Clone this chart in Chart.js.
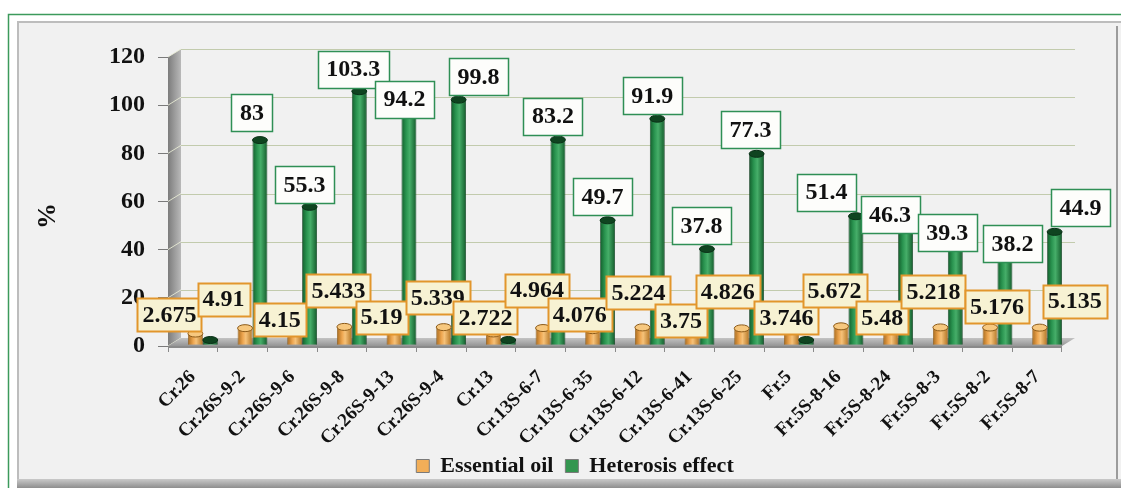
<!DOCTYPE html>
<html>
<head>
<meta charset="utf-8">
<script src="https://cdn.jsdelivr.net/npm/chart.js@4.4.1/dist/chart.umd.min.js"></script>
<style>
  html, body { margin: 0; padding: 0; background: #ffffff; }
  #wrap { width: 1121px; height: 488px; position: relative; }
  canvas { display: block; }
</style>
</head>
<body>
<div id="wrap"><canvas id="chart" width="1121" height="488"></canvas></div>
<script>
// ---- data ----
const categories = [
  'Cr.26', 'Cr.26S-9-2', 'Cr.26S-9-6', 'Cr.26S-9-8', 'Cr.26S-9-13', 'Cr.26S-9-4',
  'Cr.13', 'Cr.13S-6-7', 'Cr.13S-6-35', 'Cr.13S-6-12', 'Cr.13S-6-41', 'Cr.13S-6-25',
  'Fr.5', 'Fr.5S-8-16', 'Fr.5S-8-24', 'Fr.5S-8-3', 'Fr.5S-8-2', 'Fr.5S-8-7'
];
const essentialOil = [
  2.675, 4.91, 4.15, 5.433, 5.19, 5.339,
  2.722, 4.964, 4.076, 5.224, 3.75, 4.826,
  3.746, 5.672, 5.48, 5.218, 5.176, 5.135
];
const heterosisEffect = [
  0, 83, 55.3, 103.3, 94.2, 99.8,
  0, 83.2, 49.7, 91.9, 37.8, 77.3,
  0, 51.4, 46.3, 39.3, 38.2, 44.9
];
const yTicks = [0, 20, 40, 60, 80, 100, 120];
const seriesNames = ['Essential oil', 'Heterosis effect'];

// ---- label placement: [dx, dy] in px from the top-centre of each drawn bar ----
const oilLabelOffsets = [
  [-26, -19], [-21.5, -29], [-15, -10.5], [-6, -36], [-12.5, -10.5], [-6, -29.5],
  [-8, -16], [-6, -38], [-13, -15.5], [-4, -35], [-11, -10.5], [-14, -36.5],
  [-5, -13], [-6.5, -36], [-8.5, -9], [-7, -35.5], [7, -21], [35, -26.5]
];
const hetLabelOffsets = [
  null, [-8, -27.5], [-5, -22], [-6, -22], [-4.5, -14], [20, -23],
  null, [-5, -23.5], [-5, -24], [-5, -23], [-5.5, -23], [-6, -24],
  null, [-29.5, -24], [-15.5, -14], [-8, -13], [7.5, -4.5], [26, -24]
];

// ---- styling ----
const SERIF = "'Liberation Serif', 'Times New Roman', serif";
const CAT_PCT = 0.6;
const WALL = { x: 13, y: -8 };      // depth of the back wall
const BAR_SHIFT = { x: 10, y: -6 }; // columns stand mid-depth
const LEGEND_SHIFT = 34;
const LEGEND_COLORS = ['#f2ae58', '#33964f'];

const OIL_STOPS = [[0, '#a86a1c'], [0.35, '#eea650'], [0.55, '#f6c279'], [1, '#b27424']];
const HET_STOPS = [[0, '#135e2c'], [0.3, '#29934f'], [0.55, '#46ae69'], [1, '#135b2b']];

function cylinderFill(stops, solid) {
  return (c) => {
    if (c.type !== 'data') return solid;
    const chart = c.chart, xs = chart.scales.x;
    if (!xs || !chart.chartArea) return solid;
    const slot = xs.width / categories.length * CAT_PCT / 2;
    const center = xs.getPixelForValue(c.dataIndex) + (c.datasetIndex === 0 ? -slot / 2 : slot / 2);
    const g = chart.ctx.createLinearGradient(center - slot / 2, 0, center + slot / 2, 0);
    stops.forEach(([o, col]) => g.addColorStop(o, col));
    return g;
  };
}

// page frame, grey panel, side wall, floor and back-wall grid
const framePlugin = {
  id: 'frame',
  afterLayout(chart) {
    if (chart.legend) {
      chart.legend.left += LEGEND_SHIFT;
      chart.legend.right += LEGEND_SHIFT;
    }
  },
  beforeDraw(chart) {
    const ctx = chart.ctx, W = chart.width, H = chart.height;
    ctx.save();
    ctx.fillStyle = '#ffffff';
    ctx.fillRect(0, 0, W, H);
    // panel
    ctx.fillStyle = '#f1f1f1';
    ctx.fillRect(17, 21, W - 17, 460);
    ctx.strokeStyle = '#bdbdbd';
    ctx.lineWidth = 2;
    ctx.beginPath();
    ctx.moveTo(18, 481); ctx.lineTo(18, 22); ctx.lineTo(W, 22);
    ctx.stroke();
    ctx.fillStyle = '#9c9c9c';
    ctx.fillRect(W - 5, 26, 2, 455);
    const sh = ctx.createLinearGradient(0, 479, 0, 488);
    sh.addColorStop(0, '#c9c9c9');
    sh.addColorStop(1, '#8e8e8e');
    ctx.fillStyle = sh;
    ctx.fillRect(17, 479, W - 17, 9);
    // green outer rule
    ctx.strokeStyle = '#3c9a5c';
    ctx.lineWidth = 1.5;
    ctx.beginPath();
    ctx.moveTo(8.5, H); ctx.lineTo(8.5, 14.5); ctx.lineTo(W, 14.5);
    ctx.stroke();
    ctx.restore();
  },
  beforeDatasetsDraw(chart) {
    const ctx = chart.ctx, a = chart.chartArea, ys = chart.scales.y;
    ctx.save();
    // back-wall grid
    ctx.strokeStyle = 'rgba(178,190,150,0.75)';
    ctx.lineWidth = 1;
    yTicks.forEach(v => {
      if (v === 0) return;
      const y = Math.round(ys.getPixelForValue(v) + WALL.y) + 0.5;
      ctx.beginPath();
      ctx.moveTo(a.left + WALL.x, y);
      ctx.lineTo(a.right + WALL.x, y);
      ctx.stroke();
    });
    // left side wall
    const sw = ctx.createLinearGradient(a.left, 0, a.left + WALL.x, 0);
    sw.addColorStop(0, '#7c7c7c');
    sw.addColorStop(1, '#b9b9b9');
    ctx.fillStyle = sw;
    ctx.beginPath();
    ctx.moveTo(a.left, a.top);
    ctx.lineTo(a.left + WALL.x, a.top + WALL.y);
    ctx.lineTo(a.left + WALL.x, a.bottom + WALL.y);
    ctx.lineTo(a.left, a.bottom);
    ctx.closePath();
    ctx.fill();
    ctx.strokeStyle = 'rgba(235,238,215,0.85)';
    yTicks.forEach(v => {
      const y = ys.getPixelForValue(v);
      ctx.beginPath();
      ctx.moveTo(a.left, y);
      ctx.lineTo(a.left + WALL.x, y + WALL.y);
      ctx.stroke();
    });
    // floor
    const fl = ctx.createLinearGradient(0, a.bottom + WALL.y, 0, a.bottom);
    fl.addColorStop(0, '#c3c3c3');
    fl.addColorStop(1, '#959595');
    ctx.fillStyle = fl;
    ctx.beginPath();
    ctx.moveTo(a.left, a.bottom);
    ctx.lineTo(a.right, a.bottom);
    ctx.lineTo(a.right + WALL.x, a.bottom + WALL.y);
    ctx.lineTo(a.left + WALL.x, a.bottom + WALL.y);
    ctx.closePath();
    ctx.fill();
    ctx.fillStyle = '#8a8a8a';
    ctx.fillRect(a.left, a.bottom, a.right - a.left, 2);
    ctx.restore();
    // columns are drawn set back into the depth
    ctx.save();
    ctx.translate(BAR_SHIFT.x, BAR_SHIFT.y);
  },
  afterDatasetsDraw(chart) {
    const ctx = chart.ctx;
    // cylinder caps
    chart.data.datasets.forEach((ds, di) => {
      chart.getDatasetMeta(di).data.forEach(el => {
        ctx.beginPath();
        ctx.ellipse(el.x, el.y, el.width / 2, 3.5, 0, 0, Math.PI * 2);
        if (di === 0) {
          ctx.fillStyle = '#f7c87f';
          ctx.strokeStyle = '#8c5a18';
        } else {
          ctx.fillStyle = '#0f4420';
          ctx.strokeStyle = '#0a3017';
        }
        ctx.lineWidth = 1;
        ctx.fill();
        ctx.stroke();
      });
    });
    ctx.restore();

    // value tags
    const tag = (text, cx, cy, st) => {
      ctx.font = 'bold 24px ' + SERIF;
      const w = ctx.measureText(text).width + st.padX * 2;
      const x = Math.round(cx - w / 2) + 0.5, y = Math.round(cy - st.h / 2) + 0.5;
      ctx.fillStyle = st.fill;
      ctx.fillRect(x, y, w, st.h);
      ctx.lineWidth = st.lw;
      ctx.strokeStyle = st.stroke;
      ctx.strokeRect(x, y, w, st.h);
      ctx.fillStyle = '#111111';
      ctx.textAlign = 'center';
      ctx.textBaseline = 'middle';
      ctx.fillText(text, cx, cy + 1);
    };
    const oilStyle = { padX: 5, h: 33, fill: '#f7f2d3', stroke: '#e2962c', lw: 2 };
    const hetStyle = { padX: 8.5, h: 37, fill: '#fdfdfb', stroke: '#2f8f55', lw: 1.5 };
    const oilMeta = chart.getDatasetMeta(0).data;
    const hetMeta = chart.getDatasetMeta(1).data;
    ctx.save();
    essentialOil.forEach((v, i) => {
      const o = oilLabelOffsets[i], el = oilMeta[i];
      tag(String(v), el.x + BAR_SHIFT.x + o[0], el.y + BAR_SHIFT.y + o[1], oilStyle);
    });
    heterosisEffect.forEach((v, i) => {
      const o = hetLabelOffsets[i], el = hetMeta[i];
      if (!o) return;
      tag(String(v), el.x + BAR_SHIFT.x + o[0], el.y + BAR_SHIFT.y + o[1], hetStyle);
    });
    // value-axis caption
    ctx.translate(48, 216);
    ctx.rotate(-Math.PI / 2);
    ctx.font = 'bold 26px ' + SERIF;
    ctx.fillStyle = '#111111';
    ctx.textAlign = 'center';
    ctx.textBaseline = 'middle';
    ctx.fillText('%', 0, 0);
    ctx.restore();
  }
};

new Chart(document.getElementById('chart'), {
  type: 'bar',
  data: {
    labels: categories,
    datasets: [
      {
        label: seriesNames[0],
        data: essentialOil,
        backgroundColor: cylinderFill(OIL_STOPS, LEGEND_COLORS[0]),
        borderColor: '#8c5a18',
        borderWidth: 0.8,
        base: -2,
        clip: false
      },
      {
        label: seriesNames[1],
        data: heterosisEffect,
        backgroundColor: cylinderFill(HET_STOPS, LEGEND_COLORS[1]),
        borderColor: '#0a3a1a',
        borderWidth: 0.8,
        base: -2,
        clip: false
      }
    ]
  },
  options: {
    responsive: false,
    animation: false,
    categoryPercentage: CAT_PCT,
    barPercentage: 1,
    layout: { padding: { left: 20, right: 59, top: 57, bottom: 1 } },
    plugins: {
      tooltip: { enabled: false },
      legend: {
        position: 'bottom',
        labels: {
          font: { family: SERIF, size: 22, weight: 'bold' },
          color: '#111111',
          boxWidth: 13,
          boxHeight: 13,
          padding: 12,
          generateLabels: (chart) => chart.data.datasets.map((ds, i) => ({
            text: ds.label,
            fillStyle: LEGEND_COLORS[i],
            strokeStyle: '#7a7a7a',
            lineWidth: 1,
            hidden: false,
            datasetIndex: i,
            fontColor: '#111111'
          }))
        }
      }
    },
    scales: {
      x: {
        afterFit: (s) => { s.height = 97; },
        border: { display: false },
        grid: { drawOnChartArea: false, drawTicks: true, tickLength: 6, color: '#8a8a8a', offset: true },
        ticks: {
          font: { family: SERIF, size: 19, weight: 'bold' },
          color: '#111111',
          maxRotation: 45,
          minRotation: 45,
          autoSkip: false,
          padding: 14
        }
      },
      y: {
        min: 0,
        max: 120,
        afterFit: (s) => { s.width = 148; },
        afterBuildTicks: (s) => { s.ticks = yTicks.map(v => ({ value: v })); },
        border: { display: false },
        grid: { drawOnChartArea: false, drawTicks: true, tickLength: 10, color: '#7a7a7a' },
        ticks: {
          font: { family: SERIF, size: 24, weight: 'bold' },
          color: '#111111',
          padding: 13
        }
      }
    }
  },
  plugins: [framePlugin]
});
</script>
</body>
</html>
